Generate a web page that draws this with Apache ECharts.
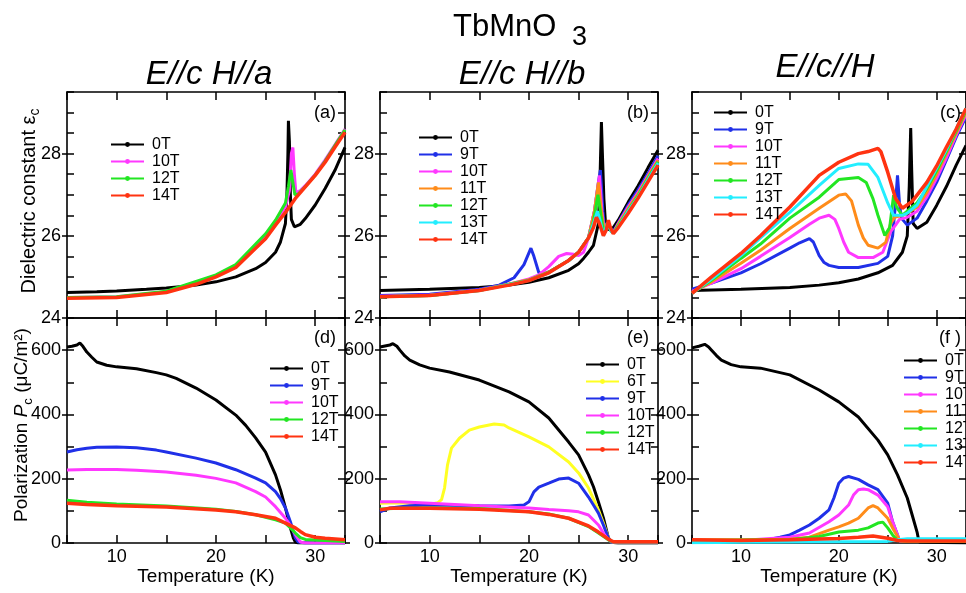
<!DOCTYPE html>
<html><head><meta charset="utf-8">
<script src="https://cdn.jsdelivr.net/npm/echarts@6/dist/echarts.min.js"></script>
<style>html,body{margin:0;padding:0;background:#fff}#c{width:966px;height:593px}</style>
</head><body><div id="c"></div><script>
// ---------- data (T in K, value) ----------
const tempTicks = [10, 20, 30];
const epsTicks = [24, 26, 28];
const polTicks = [0, 200, 400, 600];

const epsA_0T = [[5,24.62],[8,24.64],[10,24.66],[13,24.7],[15,24.73],[18,24.8],[20,24.88],[22,25.0],[24,25.2],[25,25.35],[26,25.6],[26.5,25.85],[27,26.3],[27.15,27.0],[27.25,28.0],[27.3,28.8],[27.4,28.3],[27.5,27.0],[27.6,26.4],[27.9,26.22],[28.5,26.28],[29,26.42],[30,26.75],[31,27.15],[32,27.6],[33,28.15]];
const epsA_10T = [[5,24.5],[10,24.52],[15,24.64],[20,25.03],[22,25.27],[24,25.75],[25,26.0],[26,26.33],[27,26.7],[27.4,27.1],[27.6,28.0],[27.75,28.15],[27.9,27.5],[28.05,27.05],[28.5,27.1],[29,27.22],[30,27.5],[31,27.85],[32,28.22],[33,28.6]];
const epsA_12T = [[5,24.5],[10,24.52],[15,24.65],[20,25.05],[22,25.3],[24,25.8],[25,26.05],[26,26.38],[27,26.8],[27.3,27.2],[27.55,27.6],[27.75,27.3],[27.95,27.0],[28.3,27.02],[29,27.2],[30,27.48],[31,27.82],[32,28.2],[33,28.58]];
const epsA_14T = [[5,24.48],[10,24.5],[15,24.62],[18,24.82],[20,25.0],[22,25.23],[24,25.7],[25,25.93],[26,26.26],[27,26.57],[28,26.91],[29,27.19],[30,27.47],[31,27.79],[32,28.16],[33,28.52]];

const epsB_0T = [[5,24.67],[10,24.7],[15,24.74],[18,24.8],[20,24.87],[22,24.98],[24,25.16],[25,25.32],[25.5,25.45],[26,25.6],[26.5,25.77],[27,26.3],[27.15,27.3],[27.3,28.77],[27.4,28.0],[27.55,26.9],[27.7,26.35],[28,26.15],[28.5,26.2],[29,26.38],[30,26.82],[31,27.22],[32,27.66],[33,28.08]];
const epsB_9T = [[5,24.55],[10,24.58],[15,24.7],[17,24.8],[18.5,24.98],[19.5,25.3],[20.2,25.7],[20.5,25.5],[21,25.1],[21.5,25.08],[22,25.12],[24,25.4],[25,25.6],[26,25.95],[26.6,26.6],[27.0,27.3],[27.2,27.6],[27.45,26.6],[27.65,26.1],[27.9,26.3],[28.3,26.15],[28.6,26.15],[29,26.32],[30,26.75],[31,27.12],[32,27.52],[33,27.95]];
const epsB_10T = [[5,24.53],[10,24.56],[15,24.68],[18,24.82],[20,24.95],[21,25.05],[22,25.25],[23,25.5],[23.8,25.57],[24.5,25.55],[25,25.52],[25.5,25.6],[26,25.95],[26.6,26.6],[27.1,27.47],[27.35,26.6],[27.6,26.1],[27.9,26.3],[28.3,26.12],[28.6,26.12],[29,26.3],[30,26.7],[31,27.06],[32,27.47],[33,27.88]];
const epsB_11T = [[5,24.52],[10,24.55],[15,24.67],[20,24.93],[22,25.12],[24,25.4],[25,25.6],[26,25.95],[26.6,26.6],[27.0,27.3],[27.3,26.6],[27.6,26.08],[27.9,26.3],[28.3,26.1],[28.6,26.1],[29,26.28],[30,26.66],[31,27.02],[32,27.44],[33,27.84]];
const epsB_12T = [[5,24.52],[10,24.55],[15,24.67],[20,24.92],[22,25.11],[24,25.4],[25,25.6],[26,25.95],[26.5,26.35],[26.95,27.0],[27.25,26.5],[27.55,26.05],[27.9,26.3],[28.3,26.1],[28.6,26.1],[29,26.25],[30,26.62],[31,26.98],[32,27.4],[33,27.8]];
const epsB_13T = [[5,24.52],[10,24.55],[15,24.67],[20,24.91],[22,25.1],[24,25.4],[25,25.6],[26,25.95],[26.5,26.3],[26.9,26.6],[27.2,26.35],[27.5,26.0],[27.9,26.32],[28.3,26.1],[28.6,26.08],[29,26.22],[30,26.6],[31,26.95],[32,27.37],[33,27.77]];
const epsB_14T = [[5,24.52],[10,24.55],[15,24.67],[18,24.8],[20,24.91],[22,25.1],[24,25.4],[25,25.6],[26,25.95],[26.5,26.2],[26.8,26.45],[27.1,26.3],[27.5,26.0],[27.8,26.15],[28.0,26.38],[28.2,26.2],[28.5,26.05],[29,26.2],[30,26.55],[31,26.92],[32,27.32],[33,27.72]];

const epsC_0T = [[5,24.67],[8,24.69],[10,24.7],[15,24.74],[18,24.8],[20,24.86],[22,24.95],[24,25.1],[25.5,25.28],[26.5,25.6],[27,26.0],[27.2,27.2],[27.35,28.62],[27.45,27.6],[27.6,26.3],[28,26.18],[29,26.33],[30,26.74],[31,27.2],[32,27.72],[33,28.2]];
const epsC_9T = [[5,24.7],[7,24.85],[10,25.1],[12,25.32],[15,25.7],[16,25.83],[17,25.93],[17.4,25.85],[18,25.52],[18.5,25.35],[19,25.28],[20,25.23],[22,25.23],[24,25.33],[25,25.5],[25.5,26.0],[25.8,26.8],[26,27.47],[26.2,26.8],[26.4,26.43],[27,26.26],[28,26.43],[29,26.85],[30,27.3],[31,27.85],[32,28.4],[33,28.9]];
const epsC_10T = [[5,24.65],[7,24.85],[10,25.2],[12,25.5],[15,25.96],[17,26.28],[18,26.43],[19,26.5],[19.6,26.4],[20,26.18],[20.5,25.85],[21,25.6],[22,25.47],[23.5,25.47],[24.5,25.6],[25.3,26.1],[25.8,26.26],[26.2,26.4],[27,26.45],[28,26.6],[29,26.95],[30,27.4],[31,27.9],[32,28.45],[33,28.95]];
const epsC_11T = [[5,24.62],[7,24.88],[10,25.33],[12,25.65],[15,26.18],[18,26.67],[20,26.99],[20.7,27.02],[21.3,26.85],[22,26.26],[22.5,25.95],[23,25.77],[24,25.7],[24.8,25.84],[25.3,26.3],[25.7,26.45],[26.5,26.5],[27,26.55],[28,26.7],[29,27.05],[30,27.5],[31,28.0],[32,28.5],[33,29.0]];
const epsC_12T = [[5,24.6],[7,24.92],[10,25.45],[12,25.8],[15,26.43],[18,26.94],[20,27.37],[22,27.42],[22.8,27.3],[23.5,26.9],[24,26.5],[24.7,26.01],[25.2,26.2],[25.6,26.99],[25.9,26.7],[26.5,26.5],[27,26.6],[28,26.8],[29,27.15],[30,27.58],[31,28.05],[32,28.55],[33,29.05]];
const epsC_13T = [[5,24.6],[7,24.95],[10,25.52],[12,25.95],[15,26.57],[18,27.23],[20,27.64],[22,27.75],[23,27.74],[24,27.42],[25,26.8],[25.6,26.5],[26.5,26.5],[27,26.55],[28,26.75],[29,27.2],[30,27.65],[31,28.1],[32,28.6],[33,29.1]];
const epsC_14T = [[5,24.6],[7,25.0],[10,25.57],[12,26.0],[15,26.7],[18,27.47],[20,27.79],[22,28.0],[23,28.05],[24,28.13],[24.3,28.05],[25,27.55],[25.8,26.91],[26.5,26.67],[27.5,26.84],[29,27.3],[30,27.7],[31,28.16],[32,28.6],[33,29.1]];

const polD_0T = [[5,610],[5.5,612],[6,616],[6.3,622],[6.6,612],[7,594],[7.5,578],[8,563],[9,553],[10,548],[12,542],[14,530],[15,523],[16,512],[18,482],[20,445],[22,398],[23,366],[24,327],[25,283],[26,212],[26.5,165],[27,109],[27.5,47],[27.8,15],[28,3],[28.3,0],[33,0]];
const polD_9T = [[5,283],[6,290],[7,295],[8,298],[10,299],[12,296],[14,289],[15,283],[18,264],[20,249],[22,228],[24,202],[25,187],[26,160],[26.5,138],[27,109],[27.5,66],[28,16],[28.3,3],[29,0],[33,0]];
const polD_10T = [[5,227],[7,229],[10,229],[12,226],[15,221],[18,211],[20,201],[22,187],[24,160],[25,143],[26,113],[27,77],[27.5,55],[28,26],[28.5,3],[29,0],[33,0]];
const polD_12T = [[5,133],[7,127],[10,121],[15,115],[20,105],[22,98],[24,88],[26,72],[27,62],[27.5,47],[28,31],[28.5,17],[29,11],[30,9],[33,5]];
const polD_14T = [[5,124],[7,120],[10,116],[15,112],[20,103],[22,97],[24,88],[26,77],[27,62],[28,47],[28.5,36],[29,26],[30,18],[31,15],[33,10]];

const polE_0T = [[5,610],[6,616],[6.3,620],[6.7,612],[7,600],[7.5,582],[8,569],[9,554],[10,544],[12,532],[15,507],[18,470],[20,439],[22,389],[24,314],[25,274],[26,212],[26.5,175],[27,128],[27.5,78],[28,16],[28.3,2],[29,0],[33,0]];
const polE_6T = [[5,124],[7,125],[9,123],[10,120],[10.8,125],[11.2,135],[11.5,171],[11.8,243],[12.2,295],[13,326],[14,351],[15,361],[16.5,370],[17.5,367],[18,358],[20,330],[22,299],[24,252],[25,218],[26,171],[27,103],[27.5,62],[28,16],[28.3,2],[29,0],[33,0]];
const polE_9T = [[5,97],[6,109],[8,116],[10,118],[15,116],[18,115],[19.5,118],[20,128],[20.5,159],[21,174],[22,186],[23,199],[24,202],[25,186],[26,143],[26.5,118],[27,93],[27.5,56],[28,16],[28.3,2],[29,0],[33,0]];
const polE_10T = [[5,128],[7,128],[10,124],[15,116],[20,109],[22,104],[24,100],[25,97],[26,87],[27,56],[27.5,31],[28,10],[28.5,2],[33,2]];
const polE_12T = [[5,106],[7,108],[10,109],[15,107],[20,97],[22,90],[24,77],[26,51],[27,31],[28,10],[28.5,3],[33,3]];
const polE_14T = [[5,103],[6,108],[10,108],[15,105],[20,97],[22,89],[24,77],[26,53],[27,34],[28,12],[28.5,4],[33,4]];

const polF_0T = [[5,607],[5.7,612],[6.3,618],[6.7,610],[7,600],[7.5,583],[8,569],[9,555],[10,548],[12,544],[15,523],[18,476],[20,439],[22,392],[24,320],[25,274],[26,212],[27,140],[27.5,87],[28,34],[28.2,3],[28.4,0],[33,0]];
const polF_9T = [[5,5],[10,8],[13,12],[14,18],[15,25],[16,40],[17,56],[18,77],[19,103],[19.5,140],[20,186],[20.5,202],[21,207],[22,198],[23,181],[24,166],[25,124],[25.5,66],[26,25],[26.2,6],[27,5],[33,5]];
const polF_10T = [[5,5],[10,8],[15,18],[17,31],[19,66],[20,87],[21,118],[21.5,149],[22,166],[22.5,168],[23,166],[24,149],[25,113],[25.5,66],[26,25],[26.2,6],[27,5],[33,5]];
const polF_11T = [[5,10],[10,10],[15,12],[17,18],[19,40],[20,50],[21,62],[22,77],[23,109],[23.5,116],[24,109],[25,77],[25.5,47],[26,20],[26.3,6],[27,5],[33,5]];
const polF_12T = [[5,8],[15,10],[18,20],[20,34],[22,40],[23,47],[24,62],[24.5,65],[25,47],[25.5,25],[26,8],[27,6],[33,6]];
const polF_13T = [[5,1],[10,2],[15,3],[20,4],[25,5],[26,10],[27,13],[33,13]];
const polF_14T = [[5,10],[10,8],[15,10],[20,14],[22,18],[23.5,22],[25,15],[26,8],[27,6],[33,6]];

// ---------- styling ----------
const FONT = '"Liberation Sans", Arial, Helvetica, sans-serif';
const COLORS = {'0T':'#000000','6T':'#ffff22','9T':'#2030e8','10T':'#ff38ff','11T':'#ff8c1a','12T':'#22e622','13T':'#22eeff','14T':'#ff3311'};

const panels = [
  {row:0,col:0,label:'(a)',legend:[110,136],series:[['0T',epsA_0T],['10T',epsA_10T],['12T',epsA_12T],['14T',epsA_14T]]},
  {row:0,col:1,label:'(b)',legend:[418,129],series:[['0T',epsB_0T],['9T',epsB_9T],['10T',epsB_10T],['11T',epsB_11T],['12T',epsB_12T],['13T',epsB_13T],['14T',epsB_14T]]},
  {row:0,col:2,label:'(c)',legend:[713,104],series:[['0T',epsC_0T],['9T',epsC_9T],['10T',epsC_10T],['11T',epsC_11T],['12T',epsC_12T],['13T',epsC_13T],['14T',epsC_14T]]},
  {row:1,col:0,label:'(d)',legend:[269,360],series:[['0T',polD_0T],['9T',polD_9T],['10T',polD_10T],['12T',polD_12T],['14T',polD_14T]]},
  {row:1,col:1,label:'(e)',legend:[585,356],series:[['0T',polE_0T],['6T',polE_6T],['9T',polE_9T],['10T',polE_10T],['12T',polE_12T],['14T',polE_14T]]},
  {row:1,col:2,label:'(f )',legend:[903,352],series:[['0T',polF_0T],['9T',polF_9T],['10T',polF_10T],['11T',polF_11T],['12T',polF_12T],['13T',polF_13T],['14T',polF_14T]]}
];
const LEFTS = [67, 380, 692];
const W = 278;
const TOPS = [92, 318];
const HEIGHTS = [226, 225];

const grids = [], xAxes = [], yAxes = [], series = [], legends = [], graphics = [];
const axLine = {show:true, onZero:false, lineStyle:{color:'#000', width:1.6}};

panels.forEach((p) => {
  const gi = grids.length;
  const left = LEFTS[p.col], top = TOPS[p.row], h = HEIGHTS[p.row];
  grids.push({left:left, top:top, width:W, height:h});
  const isTop = p.row === 0;
  const yMin = isTop ? 24 : 0, yMax = isTop ? 29.5 : 700, yInt = isTop ? 0.5 : 100;
  const majors = isTop ? epsTicks : polTicks;
  const xb = xAxes.length;
  xAxes.push({gridIndex:gi, type:'value', position:'bottom', min:5, max:33, interval:5,
    axisLine:axLine, axisTick:{inside:true, length:8, lineStyle:{color:'#000', width:1.5}},
    axisLabel:{show:!isTop, customValues:tempTicks, fontSize:18, color:'#000', fontFamily:FONT, margin:5},
    splitLine:{show:false},
    name: isTop ? '' : 'Temperature (K)', nameLocation:'middle', nameGap:24,
    nameTextStyle:{fontSize:19, color:'#000', fontFamily:FONT}});
  xAxes.push({gridIndex:gi, type:'value', position:'top', min:5, max:33, interval:5,
    axisLine:axLine, axisTick:{inside:true, length:8, lineStyle:{color:'#000', width:1.5}},
    axisLabel:{show:false}, splitLine:{show:false}});
  const yl = yAxes.length;
  yAxes.push({gridIndex:gi, type:'value', position:'left', min:yMin, max:yMax, interval:yInt,
    axisLine:axLine, axisTick:{inside:true, length:7, lineStyle:{color:'#000', width:1.5}},
    axisLabel:{customValues:majors, fontSize:18, color:'#000', fontFamily:FONT, margin:6},
    splitLine:{show:false}});
  yAxes.push({gridIndex:gi, type:'value', position:'right', min:yMin, max:yMax, interval:yInt,
    axisLine:axLine, axisTick:{inside:true, length:7, lineStyle:{color:'#000', width:1.5}},
    axisLabel:{show:false}, splitLine:{show:false}});
  ['left','right'].forEach(pos => {
    yAxes.push({gridIndex:gi, type:'value', position:pos, min:yMin, max:yMax,
      axisLine:{show:false}, axisTick:{inside:false, length:5, customValues:majors, lineStyle:{color:'#000', width:1.5}},
      axisLabel:{show:false}, splitLine:{show:false}});
  });
  p.series.forEach(([name, data]) => {
    series.push({type:'line', name:name, data:data, xAxisIndex:xb, yAxisIndex:yl,
      showSymbol:false, symbol:'circle', symbolSize:4, smooth:false,
      lineStyle:{color:COLORS[name], width: name === '14T' ? 3.5 : 3},
      itemStyle:{color:COLORS[name]}, emphasis:{disabled:true}, silent:true, z:2});
  });
  legends.push({orient:'vertical', left:p.legend[0], top:p.legend[1], padding:0, itemGap:0,
    itemWidth:33, itemHeight:6, selectedMode:false,
    textStyle:{fontSize:16, lineHeight:17, color:'#000', fontFamily:FONT, padding:[0,0,0,3]},
    data:p.series.map(s => s[0])});
  graphics.push({type:'text', x:left + W - 9, y:top + (isTop ? 21 : 20),
    style:{text:p.label, fontSize:18, fontFamily:FONT, fill:'#000', textAlign:'right', textVerticalAlign:'middle'}});
});

// titles
graphics.push({type:'text', x:453, y:27, style:{text:'TbMnO', fontSize:31, fontFamily:FONT, fill:'#000', textVerticalAlign:'middle'}});
graphics.push({type:'text', x:572, y:38, style:{text:'3', fontSize:27, fontFamily:FONT, fill:'#000', textVerticalAlign:'middle'}});
const subs = ['E//c H//a', 'E//c H//b', 'E//c//H'];
const subY = [75, 75, 68];
subs.forEach((s, i) => {
  graphics.push({type:'text', x:LEFTS[i] + W/2 + (i===2 ? -6 : 3), y:subY[i],
    style:{text:s, fontSize:33, fontStyle:'italic', fontFamily:FONT, fill:'#000', textAlign:'center', textVerticalAlign:'middle'}});
});
// y axis titles
graphics.push({type:'text', x:29, y:201, rotation:Math.PI/2,
  style:{text:'{a|Dielectric constant ε}{s|c}', fontFamily:FONT, fill:'#000', textAlign:'center', textVerticalAlign:'middle',
    rich:{a:{fontSize:20, lineHeight:27, verticalAlign:'middle', fontFamily:FONT}, s:{fontSize:14, lineHeight:27, verticalAlign:'bottom', fontFamily:FONT}}}});
graphics.push({type:'text', x:22, y:425, rotation:Math.PI/2,
  style:{text:'{a|Polarization }{p|P}{s|c}{a| (μC/m²)}', fontFamily:FONT, fill:'#000', textAlign:'center', textVerticalAlign:'middle',
    rich:{a:{fontSize:19, lineHeight:26, verticalAlign:'middle', fontFamily:FONT},
          p:{fontSize:19, lineHeight:26, verticalAlign:'middle', fontStyle:'italic', fontFamily:FONT},
          s:{fontSize:13, lineHeight:26, verticalAlign:'bottom', fontFamily:FONT}}}});

const chart = echarts.init(document.getElementById('c'), null, {renderer:'canvas'});
chart.setOption({
  animation:false,
  backgroundColor:'#ffffff',
  grid:grids, xAxis:xAxes, yAxis:yAxes, series:series, legend:legends,
  graphic:{elements:graphics}
});
</script></body></html>
